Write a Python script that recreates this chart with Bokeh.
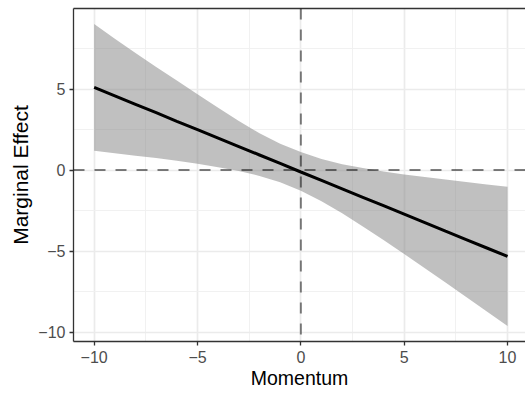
from bokeh.plotting import figure
from bokeh.models import Range1d, FixedTicker, Span, LinearAxis
from bokeh.embed import file_html
from bokeh.resources import INLINE

# Data
momentum = [-10, -9, -8, -7, -6, -5, -4, -3, -2, -1, 0, 1, 2, 3, 4, 5, 6, 7, 8, 9, 10]
effect = [5.10, 4.58, 4.06, 3.54, 3.01, 2.49, 1.97, 1.45, 0.93, 0.41, -0.12,
          -0.64, -1.16, -1.68, -2.20, -2.72, -3.24, -3.77, -4.29, -4.81, -5.33]
ci_upper = [9.01, 8.11, 7.22, 6.36, 5.53, 4.68, 3.84, 3.02, 2.27, 1.62, 1.12,
            0.68, 0.36, 0.12, -0.09, -0.27, -0.43, -0.59, -0.74, -0.89, -1.03]
ci_lower = [1.19, 1.04, 0.89, 0.74, 0.57, 0.39, 0.18, -0.06, -0.36, -0.75, -1.28,
            -1.93, -2.67, -3.48, -4.32, -5.18, -6.06, -6.94, -7.83, -8.73, -9.63]

x_ticks = [-10, -5, 0, 5, 10]
x_minor = [-7.5, -2.5, 2.5, 7.5]
y_ticks = [-10, -5, 0, 5]
y_minor = [-7.5, -2.5, 2.5, 7.5]
tick_labels = {-10: "\u221210", -5: "\u22125", 0: "0", 5: "5", 10: "10"}

FONT = "Liberation Sans"

p = figure(width=525, height=394, output_backend="svg", toolbar_location=None,
           x_range=Range1d(-11, 10.87), y_range=Range1d(-10.58, 9.97),
           min_border_left=73, min_border_right=0, min_border_top=8,
           min_border_bottom=53)
p.outline_line_color = None
p.background_fill_color = "white"
p.border_fill_color = "white"

# Ribbon
p.varea(x=momentum, y1=ci_lower, y2=ci_upper, fill_color="#7F7F7F", fill_alpha=0.49)

# Reference lines
p.add_layout(Span(location=0, dimension="width", line_color="black", line_alpha=0.5,
                  line_width=2, line_dash="11 10"))
p.add_layout(Span(location=0, dimension="height", line_color="black", line_alpha=0.5,
                  line_width=2, line_dash="11 10"))

# Effect line
p.line(momentum, effect, line_color="black", line_width=3)

xa = p.xaxis[0]
ya = p.yaxis[0]
for ax, ticks, minor in ((xa, x_ticks, x_minor), (ya, y_ticks, y_minor)):
    ax.ticker = FixedTicker(ticks=ticks, minor_ticks=minor)
    ax.major_label_overrides = {k: tick_labels[k] for k in ticks}
    ax.axis_line_color = "#333333"
    ax.axis_line_alpha = 1.0
    ax.axis_line_width = 1.3
    ax.major_tick_line_color = "#333333"
    ax.major_tick_line_alpha = 1.0
    ax.major_tick_line_width = 1.3
    ax.major_tick_in = 0
    ax.major_tick_out = 4
    ax.minor_tick_line_color = None
    ax.major_label_text_font = FONT
    ax.major_label_text_font_size = "16px"
    ax.major_label_text_color = "#4D4D4D"
    ax.axis_label_text_font = FONT
    ax.axis_label_text_font_style = "normal"
    ax.axis_label_text_color = "black"

xa.axis_label = "Momentum"
ya.axis_label = "Marginal Effect"
xa.axis_label_text_font_size = "19.5px"
ya.axis_label_text_font_size = "21px"
xa.major_label_standoff = 5
ya.major_label_standoff = 4
xa.axis_label_standoff = 1
ya.axis_label_standoff = 3

for g in (p.xgrid, p.ygrid):
    g.grid_line_color = "#EBEBEB"
    g.grid_line_width = 1.7
    g.minor_grid_line_color = "#EFEFEF"
    g.minor_grid_line_width = 0.9

top = LinearAxis(ticker=FixedTicker(ticks=[]), axis_line_color="#333333",
                 axis_line_width=1.3, major_tick_line_color=None,
                 minor_tick_line_color=None, major_label_text_font_size="0px",
                 major_tick_out=0, major_tick_in=0, major_label_standoff=0)
p.add_layout(top, "above")

open("out.html", "w").write(file_html(p, INLINE))
